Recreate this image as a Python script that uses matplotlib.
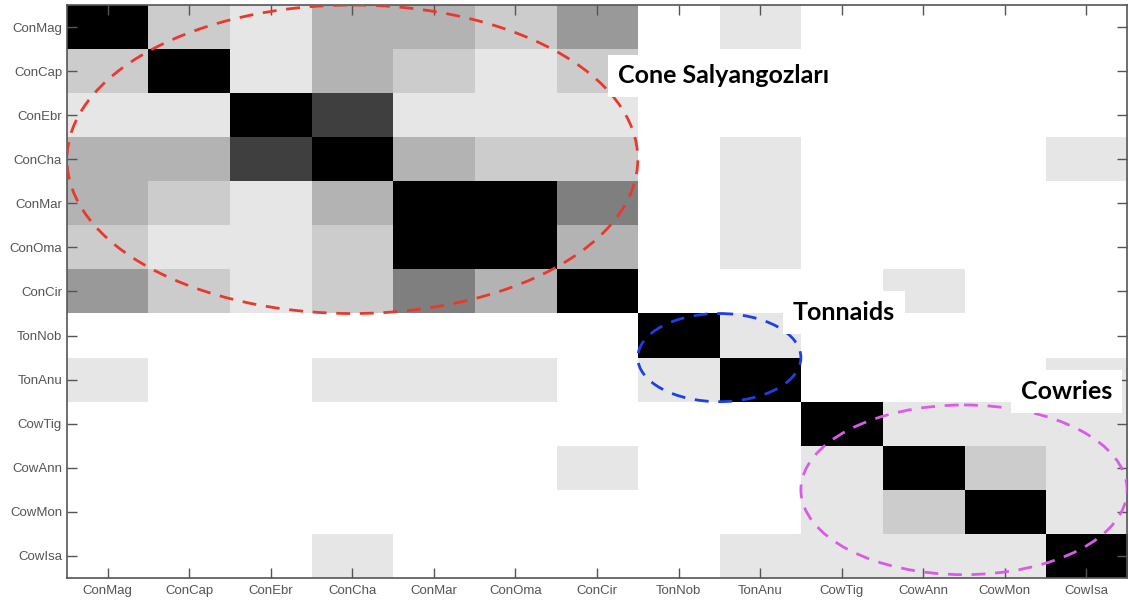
import matplotlib.pyplot as plt
import numpy as np
from matplotlib.patches import Ellipse

species = [
    "ConMag", "ConCap", "ConEbr", "ConCha", "ConMar", "ConOma", "ConCir",
    "TonNob", "TonAnu", "CowTig", "CowAnn", "CowMon", "CowIsa",
]

# pairwise similarity, 1 = identical (drawn black)
similarity = [
    [1.00, 0.20, 0.10, 0.30, 0.30, 0.20, 0.40, 0.00, 0.10, 0.00, 0.00, 0.00, 0.00],
    [0.20, 1.00, 0.10, 0.30, 0.20, 0.10, 0.20, 0.00, 0.00, 0.00, 0.00, 0.00, 0.00],
    [0.10, 0.10, 1.00, 0.75, 0.10, 0.10, 0.10, 0.00, 0.00, 0.00, 0.00, 0.00, 0.00],
    [0.30, 0.30, 0.75, 1.00, 0.30, 0.20, 0.20, 0.00, 0.10, 0.00, 0.00, 0.00, 0.10],
    [0.30, 0.20, 0.10, 0.30, 1.00, 1.00, 0.50, 0.00, 0.10, 0.00, 0.00, 0.00, 0.00],
    [0.20, 0.10, 0.10, 0.20, 1.00, 1.00, 0.30, 0.00, 0.10, 0.00, 0.00, 0.00, 0.00],
    [0.40, 0.20, 0.10, 0.20, 0.50, 0.30, 1.00, 0.00, 0.00, 0.00, 0.10, 0.00, 0.00],
    [0.00, 0.00, 0.00, 0.00, 0.00, 0.00, 0.00, 1.00, 0.10, 0.00, 0.00, 0.00, 0.00],
    [0.10, 0.00, 0.00, 0.10, 0.10, 0.10, 0.00, 0.10, 1.00, 0.00, 0.00, 0.00, 0.10],
    [0.00, 0.00, 0.00, 0.00, 0.00, 0.00, 0.00, 0.00, 0.00, 1.00, 0.10, 0.10, 0.10],
    [0.00, 0.00, 0.00, 0.00, 0.00, 0.00, 0.10, 0.00, 0.00, 0.10, 1.00, 0.20, 0.10],
    [0.00, 0.00, 0.00, 0.00, 0.00, 0.00, 0.00, 0.00, 0.00, 0.10, 0.20, 1.00, 0.10],
    [0.00, 0.00, 0.00, 0.10, 0.00, 0.00, 0.00, 0.00, 0.10, 0.10, 0.10, 0.10, 1.00],
]

# groups: (label, first index, last index, ellipse height in cells, colour, label x, label y)
groups = [
    ("Cone Salyangozları", 0, 6, 7.0, "#e8392c", 7.55, 1.11),
    ("Tonnaids", 7, 8, 2.0, "#1d3fe6", 9.03, 6.48),
    ("Cowries", 9, 12, 3.85, "#d95ce8", 11.76, 8.27),
]

axis_grey = "#555555"

fig = plt.figure(figsize=(11.29, 6.03), dpi=100)
ax = fig.add_axes([0.0593, 0.0415, 0.939, 0.9502])

ax.imshow(np.array(similarity), cmap="gray_r", vmin=0.0, vmax=1.0,
          aspect="auto", interpolation="nearest")

ticks = np.arange(len(species))
ax.set_xticks(ticks)
ax.set_yticks(ticks)
ax.set_xticklabels(species, family="Liberation Sans", fontsize=9.5, color=axis_grey)
ax.set_yticklabels(species, family="Liberation Sans", fontsize=9.5, color=axis_grey)
ax.tick_params(direction="in", length=7, width=1, color=axis_grey,
               top=True, right=True, labeltop=False, labelright=False)
ax.tick_params(axis="x", pad=5)
for spine in ax.spines.values():
    spine.set_color(axis_grey)
    spine.set_linewidth(1.2)

for label, first, last, height, colour, tx, ty in groups:
    centre = (first + last) / 2
    width = last - first + 1
    ax.add_patch(Ellipse((centre, centre), width, height, fill=False,
                         edgecolor=colour, linewidth=2, linestyle=(0, (5, 3.5)),
                         zorder=3))
    ax.text(tx, ty, label, ha="center", va="center", family="Lato",
            fontweight="bold", fontsize=18, color="black", zorder=4,
            bbox=dict(facecolor="white", edgecolor="none", pad=7))

fig.savefig("out.png", dpi=100)
plt.close(fig)
